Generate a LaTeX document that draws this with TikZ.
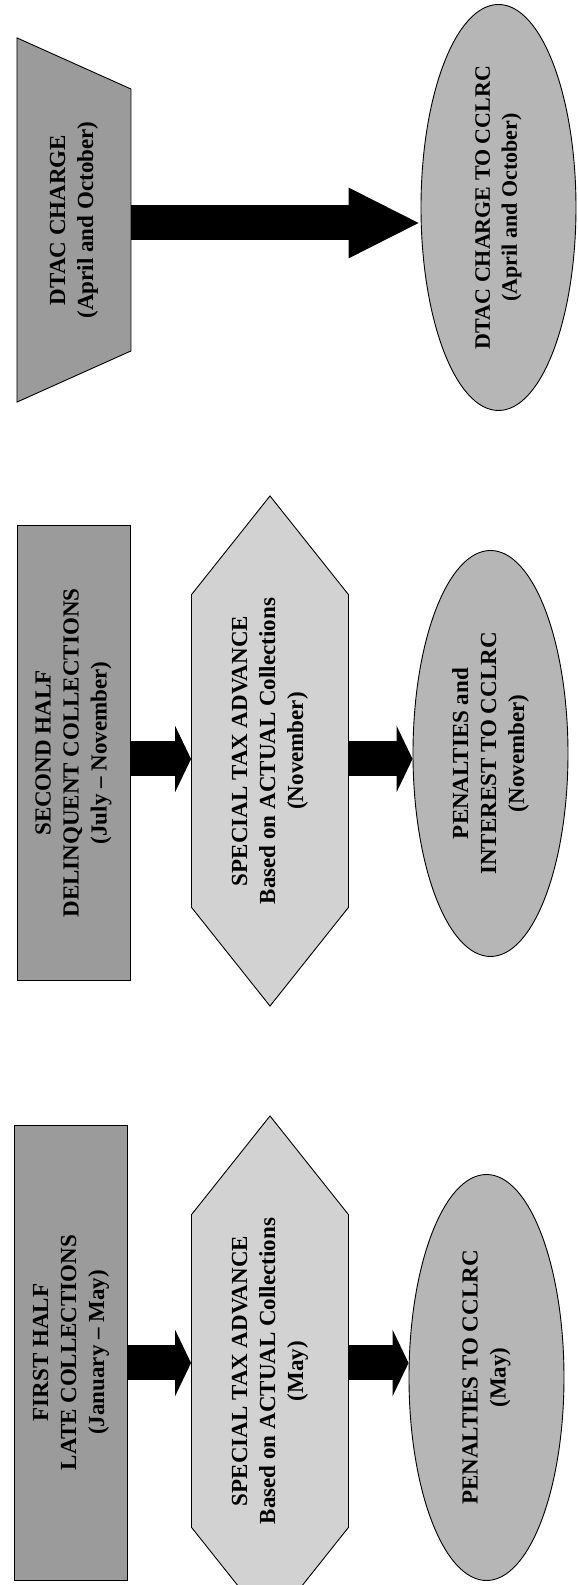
\documentclass[tikz,border=0pt]{standalone}
\usepackage{fontspec}
\setmainfont{Liberation Serif}
\usetikzlibrary{positioning, arrows.meta, shapes.geometric, shapes.symbols}

\definecolor{collgray}{RGB}{155,155,155}
\definecolor{advgray}{RGB}{210,210,210}
\definecolor{cclrcgray}{RGB}{182,182,182}

\begin{document}
\begin{tikzpicture}[x=1pt, y=1pt, rotate=90, transform shape,
    every node/.style={draw, line width=0.9pt, align=center, font=\bfseries\fontsize{23}{28}\selectfont},
    collbox/.style={rectangle, fill=collgray, minimum width=455pt, minimum height=113pt},
    dtacbox/.style={trapezium, trapezium left angle=128.6, trapezium right angle=128.6, trapezium stretches=true, fill=collgray, minimum width=365pt, minimum height=114pt, inner sep=0pt},
    advbox/.style={signal, signal to=east and west, signal pointer angle=77, fill=advgray, minimum width=405pt, minimum height=157pt},
    cclrcbox/.style={ellipse, fill=cclrcgray, minimum width=406pt, minimum height=155pt, inner sep=0pt},
    flowarrow/.style={line width=35pt, -{Triangle[length=16pt, width=66pt]}}
]

    \useasboundingbox (0,0) rectangle (1585,578);

    % First half column
    \node[collbox] (firsthalf) at (232.5,507) {FIRST HALF\\LATE COLLECTIONS\\(January – May)};
    \node[advbox] (advfirst) at (214,308) {SPECIAL TAX ADVANCE\\Based on ACTUAL Collections\\(May)};
    \node[cclrcbox] (penfirst) at (207.5,91.5) {PENALTIES TO CCLRC\\(May)};

    % Second half column
    \node[collbox] (secondhalf) at (832,504.5) {SECOND HALF\\DELINQUENT COLLECTIONS\\(July – November)};
    \node[advbox] (advsecond) at (834,308) {SPECIAL TAX ADVANCE\\Based on ACTUAL Collections\\(November)};
    \node[cclrcbox] (pensecond) at (831.5,87.5) {PENALTIES and\\INTEREST TO CCLRC\\(November)};

    % DTAC column
    \node[dtacbox] (dtac) at (1365,504) {DTAC CHARGE\\(April and October)};
    \node[cclrcbox, font=\bfseries\fontsize{22}{27}\selectfont] (dtacpen) at (1377.5,79.5) {DTAC CHARGE TO CCLRC\\(April and October)};

    % Lines of the block arrows
    \coordinate (firstline) at (222,0);
    \coordinate (secondline) at (826,0);
    \coordinate (dtacline) at (1362,0);

    \draw[flowarrow] (firstline |- firsthalf.south) -- (firstline |- advfirst.north);
    \draw[flowarrow] (firstline |- advfirst.south) -- (firstline |- penfirst.north);
    \draw[flowarrow] (secondline |- secondhalf.south) -- (secondline |- advsecond.north);
    \draw[flowarrow] (secondline |- advsecond.south) -- (secondline |- pensecond.north);
    \draw[flowarrow, -{Triangle[length=72pt, width=65pt]}] (dtacline |- dtac.south) -- (dtacline |- dtacpen.north);

\end{tikzpicture}
\end{document}
